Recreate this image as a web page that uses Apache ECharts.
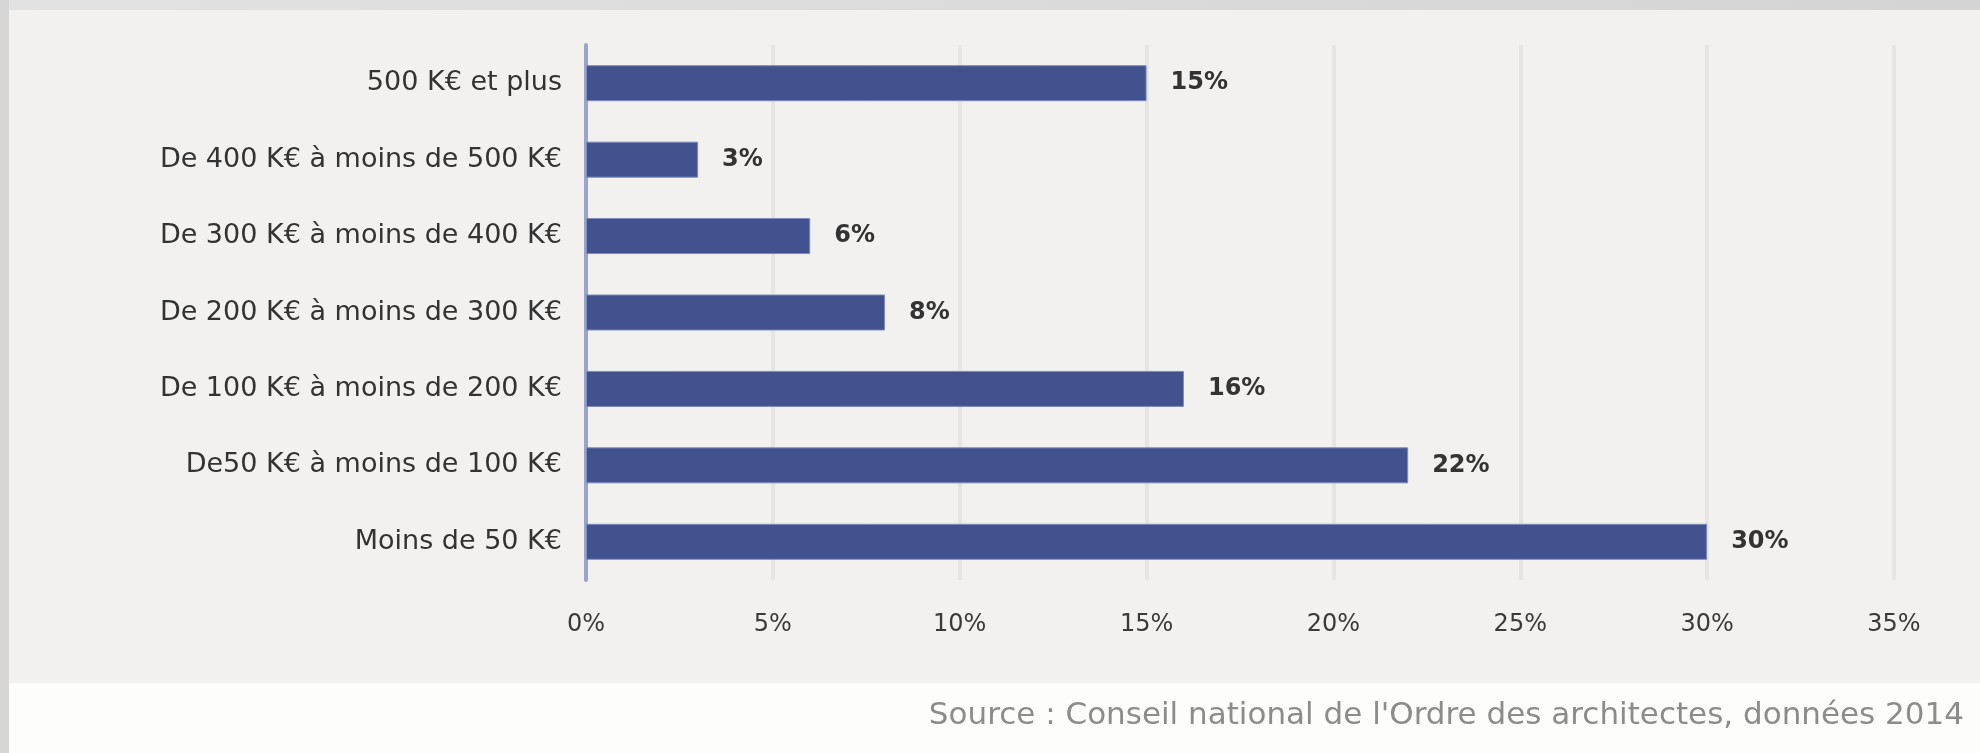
<!DOCTYPE html>
<html><head><meta charset="utf-8">
<script src="https://cdn.jsdelivr.net/npm/echarts@6/dist/echarts.min.js"></script>
<style>html,body{margin:0;padding:0;background:#fdfdfb;}#c{width:1980px;height:753px;}</style>
</head><body><div id="c"></div>
<script>
const categories = [
  "500 K€ et plus",
  "De 400 K€ à moins de 500 K€",
  "De 300 K€ à moins de 400 K€",
  "De 200 K€ à moins de 300 K€",
  "De 100 K€ à moins de 200 K€",
  "De50 K€ à moins de 100 K€",
  "Moins de 50 K€"
];
const values = [15, 3, 6, 8, 16, 22, 30];
const xTicks = [0, 5, 10, 15, 20, 25, 30, 35];
const sourceText = "Source : Conseil national de l'Ordre des architectes, données 2014";

const chart = echarts.init(document.getElementById('c'), null, {renderer: 'canvas'});
chart.setOption({
  animation: false,
  backgroundColor: '#fdfdfb',
  graphic: [
    {type: 'rect', z: -10, shape: {x: 0, y: 0, width: 1980, height: 10},
     style: {fill: new echarts.graphic.LinearGradient(0, 0, 1, 0, [{offset: 0, color: '#e2e2e2'}, {offset: 1, color: '#d4d4d4'}])}},
    {type: 'rect', z: -10, shape: {x: 0, y: 0, width: 9, height: 753}, style: {fill: '#d6d6d6'}},
    {type: 'rect', z: -10, shape: {x: 9, y: 10, width: 1971, height: 673}, style: {fill: '#f2f1f0'}},
    {type: 'text', right: 16, top: 700,
     style: {text: sourceText, fill: '#8c8c8c', font: '31px "DejaVu Sans", "Open Sans", sans-serif'}}
  ],
  grid: {left: 586, right: 86, top: 45, bottom: 173, containLabel: false},
  xAxis: {
    type: 'value', min: 0, max: 35, interval: 5,
    axisLine: {show: false}, axisTick: {show: false},
    splitLine: {show: true, lineStyle: {color: '#e6e5e4', width: 4}},
    axisLabel: {margin: 33, color: '#3a3a3a', fontSize: 24, fontFamily: '"DejaVu Sans", sans-serif',
      formatter: function (v) { return xTicks.indexOf(v) >= 0 ? v + '%' : ''; }}
  },
  yAxis: {
    type: 'category', data: categories, inverse: true,
    axisLine: {show: true, lineStyle: {color: '#9aa3c9', width: 4}},
    axisTick: {show: false},
    axisLabel: {margin: 24, color: '#333333', fontSize: 27, fontFamily: '"DejaVu Sans", sans-serif'}
  },
  series: [{
    type: 'bar', data: values, barWidth: 36,
    itemStyle: {color: '#41528f', borderColor: '#7d8bbb', borderWidth: 1},
    label: {show: true, position: 'right', distance: 24, color: '#333333', fontSize: 24, fontWeight: 'bold',
      fontFamily: '"DejaVu Sans", sans-serif', formatter: '{c}%'}
  }]
});
</script></body></html>
